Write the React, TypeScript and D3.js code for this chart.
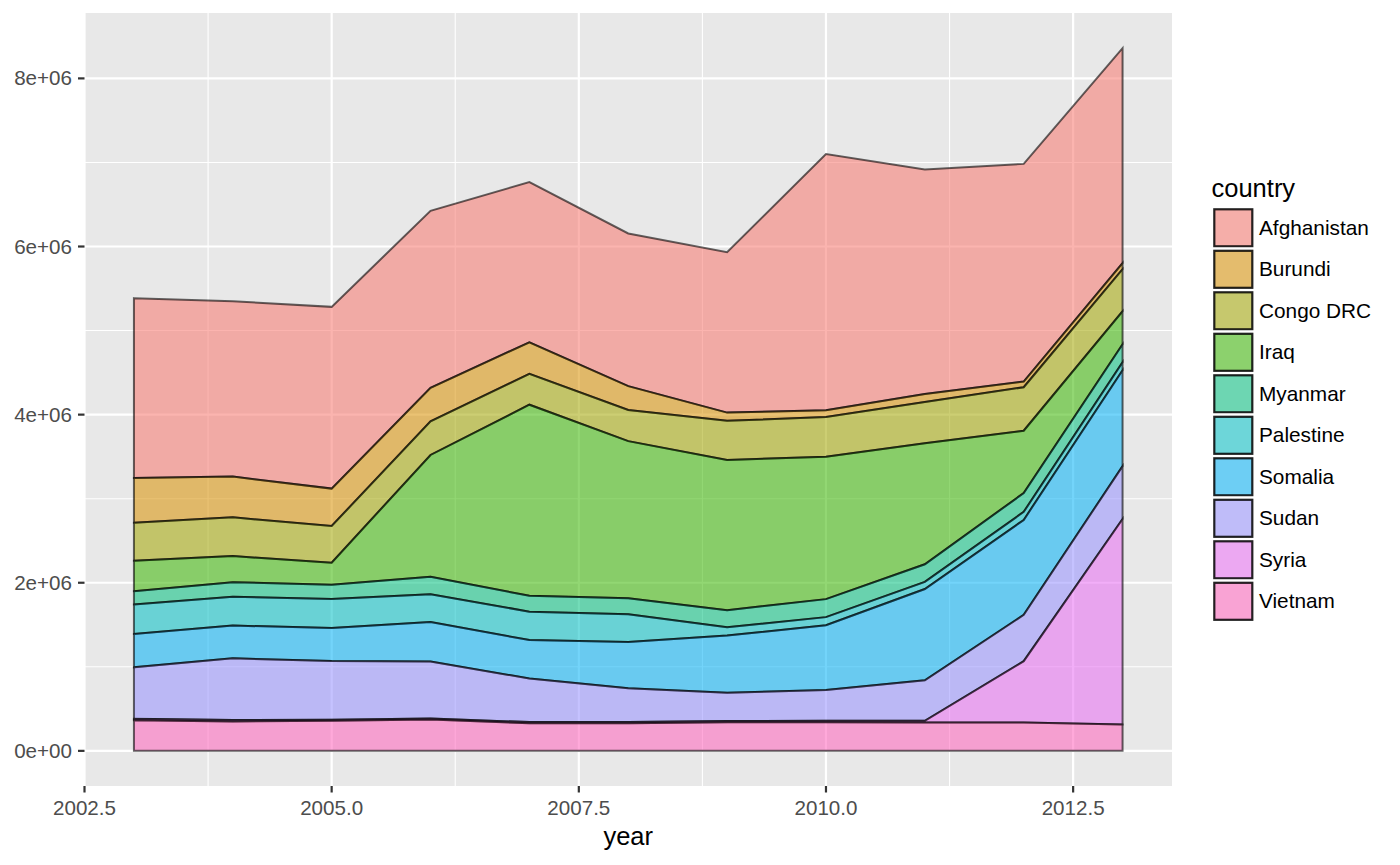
import React, { useEffect } from "react";
import * as d3 from "d3";

const years = [2003, 2004, 2005, 2006, 2007, 2008, 2009, 2010, 2011, 2012, 2013];
const countries = ["Afghanistan", "Burundi", "Congo DRC", "Iraq", "Myanmar", "Palestine", "Somalia", "Sudan", "Syria", "Vietnam"];
const colors = ["#F8766D", "#D89000", "#A3A500", "#39B600", "#00BF7D", "#00BFC4", "#00B0F6", "#9590FF", "#E76BF3", "#FF62BC"];

const afghanistan = [2139000, 2087000, 2162000, 2104000, 1906000, 1816000, 1908000, 3047000, 2670000, 2590000, 2557000];
const burundi = [532000, 485000, 445000, 400000, 376000, 283000, 97000, 82000, 95000, 67000, 73000];
const congo = [453000, 461000, 437000, 400000, 367000, 371000, 467000, 472000, 490000, 517000, 500000];
const iraq = [362000, 310000, 263000, 1449000, 2273000, 1869000, 1786000, 1694000, 1440000, 742000, 393000];
const myanmar = [159000, 175000, 167000, 207000, 189000, 192000, 204000, 214000, 209000, 224000, 213000];
const palestine = [350000, 342000, 345000, 330000, 338000, 330000, 98000, 97000, 86000, 96000, 96000];
const somalia = [397000, 389000, 394000, 470000, 457000, 550000, 681000, 769000, 1085000, 1129000, 1140000];
const sudan = [611000, 735000, 698000, 678000, 519000, 401000, 335000, 368000, 482000, 551000, 630000];
const syria = [20000, 16000, 13000, 12000, 14000, 15000, 17000, 18000, 20000, 730000, 2443000];
const vietnam = [363000, 350000, 358000, 374000, 328000, 328000, 339000, 339000, 338000, 337000, 315000];

const seriesValues = [afghanistan, burundi, congo, iraq, myanmar, palestine, somalia, sudan, syria, vietnam];

const xTicks = [2002.5, 2005, 2007.5, 2010, 2012.5];
const xMinor = [2003.75, 2006.25, 2008.75, 2011.25];
const yTicks = [0, 2e6, 4e6, 6e6, 8e6];
const yMinor = [1e6, 3e6, 5e6, 7e6];
const yTickLabels = ["0e+00", "2e+06", "4e+06", "6e+06", "8e+06"];

const FONT = "'Liberation Sans', Arial, Helvetica, sans-serif";

export default function App() {
  useEffect(() => {
    document.body.style.margin = "0";
  }, []);

  const W = 1400, H = 865;
  const left = 84.5, right = 1172, top = 13, bottom = 786;

  const table = years.map((y, i) => {
    const row: any = { year: y };
    countries.forEach((c, j) => (row[c] = seriesValues[j][i]));
    return row;
  });
  const stackKeys = [...countries].reverse();
  const stacked = d3.stack().keys(stackKeys)(table);
  const maxTotal = d3.max(stacked[stacked.length - 1], (d: any) => d[1]) as number;

  const xExt = d3.extent(years) as [number, number];
  const xPad = (xExt[1] - xExt[0]) * 0.05;
  const x = d3.scaleLinear().domain([xExt[0] - xPad, xExt[1] + xPad]).range([left, right]);
  const y = d3.scaleLinear().domain([-maxTotal * 0.05, maxTotal * 1.05]).range([bottom, top]);

  const area = d3
    .area<any>()
    .x((d: any) => x(d.data.year))
    .y0((d: any) => y(d[0]))
    .y1((d: any) => y(d[1]));

  const layers = countries.map((c, j) => {
    const s = stacked.find((l: any) => l.key === c)!;
    return { key: c, color: colors[j], d: area(s as any)! + "Z" };
  });

  const legendX = 1213.3;
  const legendY0 = 227.8;
  const pitch = 41.5;
  const fillAlpha = 0.55;
  const panelBg = "#E8E8E8";

  return (
    <svg width={W} height={H} style={{ display: "block" }} fontFamily={FONT}>
      <rect x={0} y={0} width={W} height={H} fill="#FFFFFF" />
      <rect x={left} y={top} width={right - left} height={bottom - top} fill={panelBg} />
      {yMinor.map((v) => (
        <line key={"ym" + v} x1={left} x2={right} y1={y(v)} y2={y(v)} stroke="#FFFFFF" strokeWidth={1.1} />
      ))}
      {xMinor.map((v) => (
        <line key={"xm" + v} x1={x(v)} x2={x(v)} y1={top} y2={bottom} stroke="#FFFFFF" strokeWidth={1.1} />
      ))}
      {yTicks.map((v) => (
        <line key={"yM" + v} x1={left} x2={right} y1={y(v)} y2={y(v)} stroke="#FFFFFF" strokeWidth={2.2} />
      ))}
      {xTicks.map((v) => (
        <line key={"xM" + v} x1={x(v)} x2={x(v)} y1={top} y2={bottom} stroke="#FFFFFF" strokeWidth={2.2} />
      ))}

      {layers.map((l) => (
        <path
          key={l.key}
          d={l.d}
          fill={l.color}
          fillOpacity={fillAlpha}
          stroke="#000000"
          strokeOpacity={0.6}
          strokeWidth={2}
          strokeLinejoin="miter"
        />
      ))}

      {yTicks.map((v, i) => (
        <g key={"yt" + v}>
          <line x1={left - 6.5} x2={left} y1={y(v)} y2={y(v)} stroke="#333333" strokeWidth={2.2} />
          <text x={left - 12.5} y={y(v) + 7} textAnchor="end" fontSize={20.6} fill="#4D4D4D">
            {yTickLabels[i]}
          </text>
        </g>
      ))}
      {xTicks.map((v) => (
        <g key={"xt" + v}>
          <line x1={x(v)} x2={x(v)} y1={bottom} y2={bottom + 6.5} stroke="#333333" strokeWidth={2.2} />
          <text x={x(v)} y={814.5} textAnchor="middle" fontSize={20.6} fill="#4D4D4D">
            {v.toFixed(1)}
          </text>
        </g>
      ))}
      <text x={(left + right) / 2} y={845} textAnchor="middle" fontSize={25.5} fill="#000000">
        year
      </text>

      <text x={1211.5} y={197} fontSize={25.5} fill="#000000">
        country
      </text>
      {countries.map((c, j) => {
        const cy = legendY0 + j * pitch;
        return (
          <g key={"lg" + c}>
            <rect x={legendX - 1} y={cy - pitch / 2} width={42} height={pitch} fill="#F2F2F2" stroke="#FFFFFF" strokeWidth={2} />
            <rect
              x={legendX + 1}
              y={cy - 18.5}
              width={38}
              height={37}
              fill={colors[j]}
              fillOpacity={fillAlpha}
              stroke="#000000"
              strokeOpacity={0.85}
              strokeWidth={2.2}
            />
            <text x={1259} y={cy + 7} fontSize={20.8} fill="#000000">
              {c}
            </text>
          </g>
        );
      })}
    </svg>
  );
}
